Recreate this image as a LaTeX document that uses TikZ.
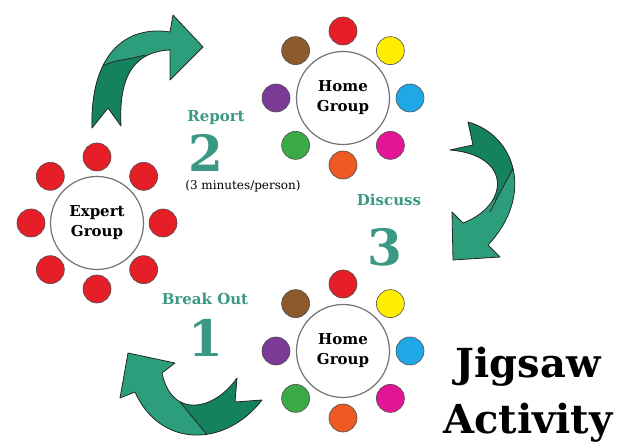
\documentclass[tikz,border=0pt]{standalone}
\usepackage{fontspec}
\setmainfont{DejaVu Serif}
\usetikzlibrary{calc}

\definecolor{ribbonlight}{RGB}{44,158,124}
\definecolor{ribbondark}{RGB}{20,130,94}
\definecolor{stepteal}{RGB}{58,152,132}
\definecolor{seatred}{RGB}{230,30,40}
\definecolor{seatyellow}{RGB}{255,238,0}
\definecolor{seatblue}{RGB}{30,168,230}
\definecolor{seatmagenta}{RGB}{228,20,150}
\definecolor{seatorange}{RGB}{238,90,36}
\definecolor{seatgreen}{RGB}{58,170,70}
\definecolor{seatpurple}{RGB}{122,58,150}
\definecolor{seatbrown}{RGB}{140,90,45}

\begin{document}
\begin{tikzpicture}[x=1pt,y=-1pt,
  group/.style={circle,draw=black!55,line width=1.2pt,fill=white,minimum size=93pt,
    inner sep=0pt,align=center,font=\bfseries\fontsize{15}{20}\selectfont},
  seat/.style={circle,draw=black!70,line width=0.6pt,minimum size=28pt,inner sep=0pt},
  steplabel/.style={text=stepteal,anchor=base,font=\bfseries\fontsize{15}{18}\selectfont},
  stepnum/.style={text=stepteal,anchor=base,font=\bfseries\fontsize{50}{50}\selectfont},
  ribbon/.style={draw=black!85,line width=0.8pt,line join=round}]
\useasboundingbox (0,0) rectangle (618,443);

% the three groups
\node[group] (homeA) at (343,98) {Home\\Group};
\node[group] (homeB) at (343,351) {Home\\Group};
\node[group] (expert) at (97,223) {Expert\\Group};

\foreach \a/\c [count=\i] in {-90/seatred,-45/seatyellow,0/seatblue,45/seatmagenta,
    90/seatorange,135/seatgreen,180/seatpurple,-135/seatbrown} {
  \node[seat,fill=\c] (homeA-\i) at ($(homeA)+(\a:67)$) {};
  \node[seat,fill=\c] (homeB-\i) at ($(homeB)+(\a:67)$) {};
}
\foreach \a [count=\i] in {-90,-45,0,45,90,135,180,-135}
  \node[seat,fill=seatred] (expert-\i) at ($(expert)+(\a:66)$) {};

% ribbon arrows
\def\arrowtop{(92,128) -- (108,108) -- (121,126) .. controls (119,85) and (128,52) .. (170,50)
  -- (170,80) -- (203,47) -- (173,15) -- (170,32) .. controls (125,25) and (90,55) .. (92,128) -- cycle}
\def\arrowright{(468,122) -- (473,145) -- (450,150) .. controls (512,155) and (510,205) .. (463,223)
  -- (452,212) -- (453,260) -- (500,257) -- (488,245) .. controls (535,195) and (515,135) .. (468,122) -- cycle}
\def\arrowlow{(128,353) -- (175,363) -- (162,373) .. controls (172,420) and (215,410) .. (237,378)
  -- (235,402) -- (262,400) .. controls (225,448) and (160,448) .. (135,392) -- (120,398) -- cycle}

\fill[ribbonlight] \arrowtop;
\begin{scope}
  \clip \arrowtop;
  \fill[ribbondark] (60,80) -- (95,70) .. controls (110,62) .. (133,58) -- (150,54) -- (150,140) -- (60,140) -- cycle;
  \draw[ribbon] (80,75) -- (95,70) .. controls (110,62) .. (133,58) -- (145,55);
\end{scope}
\draw[ribbon] \arrowtop;

\fill[ribbonlight] \arrowright;
\begin{scope}
  \clip \arrowright;
  \fill[ribbondark] (540,100) -- (540,160) -- (516,163) -- (496,200) -- (440,200) -- (440,100) -- cycle;
  \draw[ribbon] (530,150) -- (516,163) -- (496,200) -- (490,212);
\end{scope}
\draw[ribbon] \arrowright;

\fill[ribbonlight] \arrowlow;
\begin{scope}
  \clip \arrowlow;
  \fill[ribbondark] (180,340) -- (180,402) -- (208,436) -- (210,460) -- (300,460) -- (300,340) -- cycle;
  \draw[ribbon] (172,390) -- (180,402) -- (208,436) -- (212,445);
\end{scope}
\draw[ribbon] \arrowlow;

% step labels
\node[steplabel] (report) at (216,122) {Report};
\node[stepnum] (two) at (206,172) {2};
\node[anchor=base,font=\fontsize{12}{14}\selectfont] (minutes) at (243,190) {(3 minutes/person)};
\node[steplabel] (discuss) at (389,206) {Discuss};
\node[stepnum] (three) at (385,266) {3};
\node[steplabel] (breakout) at (205,305) {Break Out};
\node[stepnum] (one) at (206,356) {1};

% title
\node[anchor=base,font=\bfseries\fontsize{40}{40}\selectfont] (jigsaw) at (528,377) {Jigsaw};
\node[anchor=base,font=\bfseries\fontsize{40}{40}\selectfont] (activity) at (528,433) {Activity};
\end{tikzpicture}
\end{document}
